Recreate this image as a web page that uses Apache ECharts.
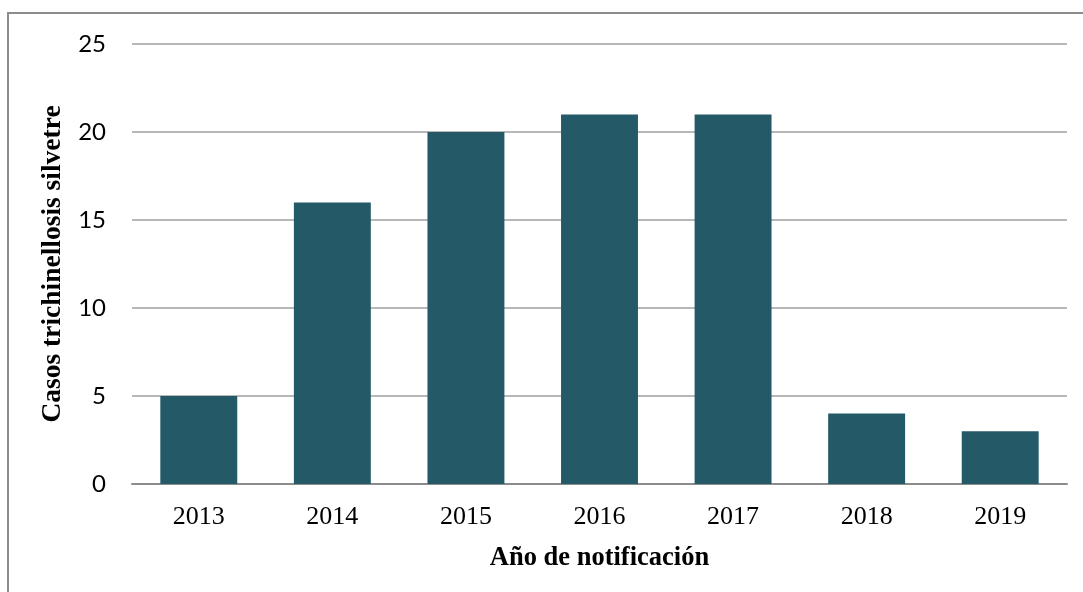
<!DOCTYPE html>
<html>
<head>
<meta charset="utf-8">
<title>Casos trichinellosis silvestre</title>
<script src="https://cdn.jsdelivr.net/npm/echarts@6/dist/echarts.min.js"></script>
<style>
  html, body { margin: 0; padding: 0; background: #fff; }
  #chart { width: 1083px; height: 592px; }
</style>
</head>
<body>
<div id="chart"></div>
<script>
  // datos
  var years = ['2013', '2014', '2015', '2016', '2017', '2018', '2019']
  var casos = [5, 16, 20, 21, 21, 4, 3]
  var yTicks = [0, 5, 10, 15, 20, 25]

  var serif = '"Liberation Serif", "Times New Roman", serif'

  var myChart = echarts.init(document.getElementById('chart'))
  var option = {
    animation: false,
    backgroundColor: '#fff',
    graphic: [{
      type: 'rect',
      shape: { x: 8, y: 13, width: 1200, height: 700 },
      style: { fill: 'none', stroke: '#8c8c8c', lineWidth: 2 },
      silent: true
    }],
    grid: { left: 132, right: 16, top: 44, bottom: 108 },
    xAxis: {
      type: 'category',
      data: years,
      name: 'Año de notificación',
      nameLocation: 'middle',
      nameGap: 61,
      nameTextStyle: { fontFamily: serif, fontWeight: 'bold', fontSize: 26.5, color: '#000' },
      axisLine: { show: true, lineStyle: { color: '#8c8c8c', width: 2 } },
      axisTick: { show: false },
      axisLabel: { fontFamily: serif, fontSize: 26, color: '#000', margin: 20 }
    },
    yAxis: {
      type: 'value',
      min: yTicks[0],
      max: yTicks[yTicks.length - 1],
      interval: 5,
      name: 'Casos trichinellosis silvetre',
      nameLocation: 'middle',
      nameGap: 63,
      nameTextStyle: { fontFamily: serif, fontWeight: 'bold', fontSize: 27.5, color: '#000' },
      axisLine: { show: false },
      axisTick: { show: false },
      axisLabel: { fontFamily: 'Lato, "Open Sans", sans-serif', fontSize: 24, color: '#000', margin: 26 },
      splitLine: { lineStyle: { color: '#a0a0a0', width: 1.5 } }
    },
    series: [{
      type: 'bar',
      data: casos,
      barWidth: '57.6%',
      itemStyle: { color: '#245a68' }
    }]
  }
  myChart.setOption(option)
</script>
</body>
</html>
